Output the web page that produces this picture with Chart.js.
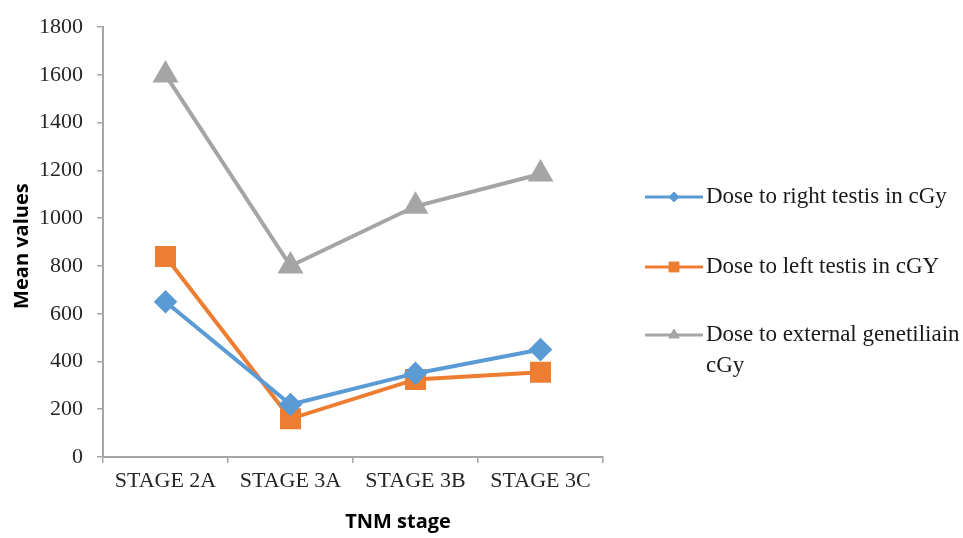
<!DOCTYPE html>
<html>
<head>
<meta charset="utf-8">
<script src="https://cdn.jsdelivr.net/npm/chart.js@4/dist/chart.umd.min.js"></script>
<style>
  html, body { margin: 0; padding: 0; background: #ffffff; }
  #wrap { position: relative; width: 963px; height: 538px; }
</style>
</head>
<body>
<div id="wrap"><canvas id="chart" width="963" height="538"></canvas></div>
<script>
// Mean dose by TNM stage
const stages = ['STAGE 2A', 'STAGE 3A', 'STAGE 3B', 'STAGE 3C'];
const rightTestis = [650, 220, 350, 450];
const leftTestis = [840, 160, 325, 355];
const externalGenitalia = [1600, 800, 1050, 1185];
const seriesNames = [
  ['Dose to right testis in cGy'],
  ['Dose to left testis in cGY'],
  ['Dose to external genetiliain', 'cGy']
];
const yTitle = 'Mean values';
const xTitle = 'TNM stage';

const BLUE = '#5B9BD5';
const ORANGE = '#ED7D31';
const GRAY = '#A5A5A5';
const AXIS = '#a6a6a6';
const SERIF = '"Liberation Serif", "Times New Roman", serif';
const SANS = '"Open Sans", "Noto Sans", sans-serif';

// Axis titles and the side legend, drawn on the canvas
const decorations = {
  id: 'decorations',
  afterDraw(chart) {
    const ctx = chart.ctx;
    const area = chart.chartArea;
    ctx.save();
    ctx.fillStyle = '#000000';
    ctx.font = 'bold 20px ' + SANS;
    ctx.textAlign = 'center';
    ctx.textBaseline = 'middle';
    ctx.fillText(xTitle, area.left + (area.right - area.left) * 0.59, 522);
    ctx.translate(22, (area.top + area.bottom) / 2 + 4);
    ctx.rotate(-Math.PI / 2);
    ctx.fillText(yTitle, 0, 0);
    ctx.restore();

    const rows = [197, 267, 335];
    const x0 = area.right + 42;
    const x1 = x0 + 58;
    chart.data.datasets.forEach((ds, i) => {
      const y = rows[i];
      ctx.save();
      ctx.strokeStyle = ds.borderColor;
      ctx.lineWidth = 3;
      ctx.beginPath();
      ctx.moveTo(x0, y);
      ctx.lineTo(x1, y);
      ctx.stroke();
      ctx.fillStyle = ds.pointBackgroundColor;
      ctx.strokeStyle = ds.pointBackgroundColor;
      ctx.lineWidth = 1;
      Chart.helpers.drawPoint(ctx, {
        pointStyle: ds.pointStyle,
        radius: ds.legendRadius,
        borderWidth: 1
      }, (x0 + x1) / 2, y);
      ctx.fillStyle = '#1a1a1a';
      ctx.font = '23px ' + SERIF;
      ctx.textAlign = 'left';
      ctx.textBaseline = 'middle';
      seriesNames[i].forEach((line, k) => {
        ctx.fillText(line, x1 + 3, y + k * 31);
      });
      ctx.restore();
    });
  }
};

new Chart(document.getElementById('chart'), {
  type: 'line',
  data: {
    labels: stages,
    datasets: [
      {
        label: seriesNames[0].join(' '),
        data: rightTestis,
        borderColor: BLUE,
        backgroundColor: BLUE,
        pointBackgroundColor: BLUE,
        pointBorderColor: BLUE,
        pointStyle: 'rectRot',
        pointRadius: 9,
        legendRadius: 5,
        borderWidth: 4
      },
      {
        label: seriesNames[1].join(' '),
        data: leftTestis,
        borderColor: ORANGE,
        backgroundColor: ORANGE,
        pointBackgroundColor: ORANGE,
        pointBorderColor: ORANGE,
        pointStyle: 'rect',
        pointRadius: 12,
        legendRadius: 7,
        borderWidth: 4
      },
      {
        label: seriesNames[2].join(' '),
        data: externalGenitalia,
        borderColor: GRAY,
        backgroundColor: GRAY,
        pointBackgroundColor: GRAY,
        pointBorderColor: GRAY,
        pointStyle: 'triangle',
        pointRadius: 11,
        legendRadius: 6,
        borderWidth: 4
      }
    ]
  },
  options: {
    responsive: false,
    animation: false,
    layout: { padding: { left: 41, right: 360, top: 22, bottom: 0 } },
    plugins: {
      legend: { display: false },
      tooltip: { enabled: false }
    },
    elements: { line: { tension: 0 }, point: { borderWidth: 1, hoverRadius: 0 } },
    scales: {
      x: {
        type: 'category',
        offset: true,
        afterFit(scale) { scale.height = 81; },
        grid: {
          offset: true,
          drawOnChartArea: false,
          drawTicks: true,
          tickLength: 6,
          color: AXIS,
          lineWidth: 1.5
        },
        border: { color: AXIS, width: 2 },
        ticks: {
          color: '#262626',
          font: { family: SERIF, size: 22 },
          padding: 5,
          maxRotation: 0
        }
      },
      y: {
        min: 0,
        max: 1800,
        afterFit(scale) { scale.width = 62; },
        grid: {
          drawOnChartArea: false,
          drawTicks: true,
          tickLength: 6,
          color: AXIS,
          lineWidth: 1.5
        },
        border: { color: AXIS, width: 2 },
        ticks: {
          stepSize: 200,
          color: '#262626',
          font: { family: SERIF, size: 22 },
          padding: 14,
          callback: (value) => String(value)
        }
      }
    }
  },
  plugins: [decorations]
});
</script>
</body>
</html>
